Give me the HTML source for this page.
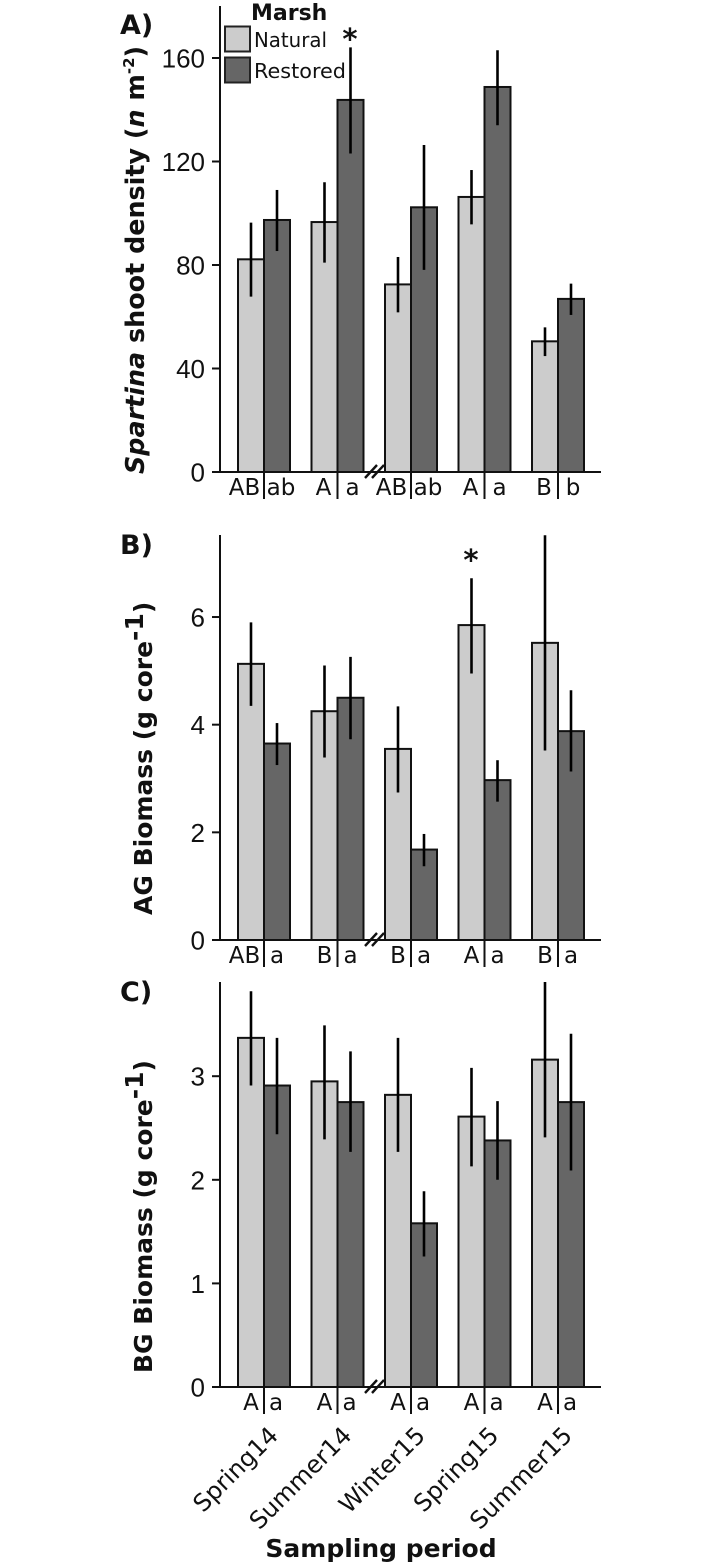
<!DOCTYPE html>
<html lang="en">
<head>
<meta charset="utf-8">
<title>Spartina shoot density and biomass by sampling period</title>
<style>
html,body{margin:0;padding:0;background:#fff;}
svg{display:block;}
text{fill:#111;}
.dj{font-family:"DejaVu Sans","Liberation Sans",sans-serif;}
.ar{font-family:"Liberation Sans",sans-serif;}
.title{font-family:"DejaVu Sans","Liberation Sans",sans-serif;font-weight:bold;}
</style>
</head>
<body>
<svg id="chart" xmlns="http://www.w3.org/2000/svg" width="722" height="1566" viewBox="0 0 722 1566">
  <text class="title" x="120" y="34" font-size="27">A)</text>
  <text class="title" x="120" y="554" font-size="27">B)</text>
  <text class="title" x="120" y="1001" font-size="27">C)</text>

  <text class="title" transform="translate(144,474) rotate(-90)" font-size="25.4"><tspan font-style="italic">Spartina</tspan> shoot density (<tspan font-style="italic">n</tspan> m<tspan font-size="15" dy="-10">-2</tspan><tspan dy="10">)</tspan></text>
  <text class="title" transform="translate(152,915) rotate(-90)" font-size="25">AG Biomass (g core<tspan dy="-9">-1</tspan><tspan dy="9">)</tspan></text>
  <text class="title" transform="translate(152,1373) rotate(-90)" font-size="25">BG Biomass (g core<tspan dy="-9">-1</tspan><tspan dy="9">)</tspan></text>

  <g id="panels"></g>

  <g>
    <text class="title" x="251" y="20" font-size="22">Marsh</text>
    <rect x="225" y="26.5" width="25" height="25" fill="#cccccc" stroke="#222" stroke-width="2"/>
    <rect x="225" y="57.5" width="25" height="25" fill="#666666" stroke="#222" stroke-width="2"/>
    <text class="dj" x="254" y="47" font-size="20" textLength="73" lengthAdjust="spacingAndGlyphs">Natural</text>
    <text class="dj" x="254" y="78" font-size="20.5" textLength="92" lengthAdjust="spacingAndGlyphs">Restored</text>
  </g>

  <text class="title" x="350" y="49" font-size="29" text-anchor="middle">*</text>
  <text class="title" x="471" y="570" font-size="29" text-anchor="middle">*</text>

  <text class="title" x="381" y="1557" font-size="25" text-anchor="middle">Sampling period</text>
</svg>
<script>
const categories = ['Spring14', 'Summer14', 'Winter15', 'Spring15', 'Summer15'];

const shootNatural = [82.2, 96.6, 72.5, 106.3, 50.5];
const shootNaturalLow = [67.8, 80.9, 61.7, 95.7, 44.8];
const shootNaturalHigh = [96.4, 112, 83.1, 116.7, 55.9];
const shootRestored = [97.4, 143.8, 102.3, 148.8, 66.9];
const shootRestoredLow = [85.4, 123.1, 78.1, 134, 60.7];
const shootRestoredHigh = [109, 164.1, 126.4, 163, 72.8];
const shootTicks = [0, 40, 80, 120, 160];
const shootLettersNatural = ['AB', 'A', 'AB', 'A', 'B'];
const shootLettersRestored = ['ab', 'a', 'ab', 'a', 'b'];

const agNatural = [5.13, 4.25, 3.55, 5.85, 5.52];
const agNaturalLow = [4.35, 3.39, 2.74, 4.95, 3.52];
const agNaturalHigh = [5.9, 5.1, 4.34, 6.72, 7.52];
const agRestored = [3.65, 4.5, 1.68, 2.97, 3.88];
const agRestoredLow = [3.25, 3.73, 1.37, 2.57, 3.13];
const agRestoredHigh = [4.03, 5.26, 1.97, 3.34, 4.64];
const agTicks = [0, 2, 4, 6];
const agLettersNatural = ['AB', 'B', 'B', 'A', 'B'];
const agLettersRestored = ['a', 'a', 'a', 'a', 'a'];

const bgNatural = [3.37, 2.95, 2.82, 2.61, 3.16];
const bgNaturalLow = [2.91, 2.39, 2.27, 2.13, 2.41];
const bgNaturalHigh = [3.82, 3.49, 3.37, 3.08, 3.91];
const bgRestored = [2.91, 2.75, 1.58, 2.38, 2.75];
const bgRestoredLow = [2.44, 2.27, 1.26, 2.0, 2.09];
const bgRestoredHigh = [3.37, 3.24, 1.89, 2.76, 3.41];
const bgTicks = [0, 1, 2, 3];
const bgLettersNatural = ['A', 'A', 'A', 'A', 'A'];
const bgLettersRestored = ['a', 'a', 'a', 'a', 'a'];

const SVG_NS = 'http://www.w3.org/2000/svg';
const root = document.getElementById('panels');

function make(tag, parent, attrs, text) {
  const el = document.createElementNS(SVG_NS, tag);
  for (const k in attrs) el.setAttribute(k, attrs[k]);
  if (text !== undefined) el.textContent = text;
  parent.appendChild(el);
  return el;
}

const AXIS_X = 220, AXIS_RIGHT = 601, FIRST_CENTER = 264, STEP = 73.5, BAR_W = 26;
const xCenter = i => FIRST_CENTER + i * STEP;

function drawPanel(p) {
  const y = v => p.y0 - v * p.pxPerUnit;
  const g = make('g', root, {});
  
  

  const clipId = p.key + '-clip';
  const cp = make('clipPath', g, {id: clipId});
  make('rect', cp, {x: AXIS_X, y: p.top, width: AXIS_RIGHT - AXIS_X, height: p.y0 - p.top});

  categories.forEach((cat, i) => {
    const c = xCenter(i);
    const n = make('rect', g, {x: c - BAR_W, y: y(p.nat[i]), width: BAR_W, height: p.y0 - y(p.nat[i]), fill: '#cccccc', stroke: '#111', 'stroke-width': 2});
    
    
    const r = make('rect', g, {x: c, y: y(p.res[i]), width: BAR_W, height: p.y0 - y(p.res[i]), fill: '#666666', stroke: '#111', 'stroke-width': 2});
    
    
  });

  categories.forEach((cat, i) => {
    const c = xCenter(i);
    const e1 = make('line', g, {x1: c - 13, x2: c - 13, y1: y(p.natHi[i]), y2: y(p.natLo[i]), stroke: '#000', 'stroke-width': 2.6, 'clip-path': 'url(#' + clipId + ')'});
    
    
    const e2 = make('line', g, {x1: c + 13, x2: c + 13, y1: y(p.resHi[i]), y2: y(p.resLo[i]), stroke: '#000', 'stroke-width': 2.6, 'clip-path': 'url(#' + clipId + ')'});
    
    

    const sep = make('line', g, {x1: c, x2: c, y1: p.y0, y2: p.y0 + 27, stroke: '#111', 'stroke-width': 2});
    
    

    const natOff = p.letN[i].length > 1 ? 19.5 : p.offN;
    const l1 = make('text', g, {x: c - natOff, y: p.y0 + 23, 'text-anchor': 'middle', 'font-size': 23, class: 'dj'}, p.letN[i]);
    
    
    const resOff = p.letR[i].length > 1 ? 17 : p.offR;
    const l2 = make('text', g, {x: c + resOff, y: p.y0 + 23, 'text-anchor': 'middle', 'font-size': 23, class: 'dj'}, p.letR[i]);
    
    
  });

  const yAxis = make('line', g, {x1: AXIS_X, x2: AXIS_X, y1: p.top, y2: p.y0 + 1, stroke: '#111', 'stroke-width': 2});
  
  
  const xAxis = make('line', g, {x1: AXIS_X - 8, x2: AXIS_RIGHT, y1: p.y0, y2: p.y0, stroke: '#111', 'stroke-width': 2});
  
  

  p.ticks.forEach(t => {
    const tick = make('line', g, {x1: AXIS_X - 8, x2: AXIS_X, y1: y(t), y2: y(t), stroke: '#111', 'stroke-width': 2});
    
    
    const label = make('text', g, {x: AXIS_X - 15, y: y(t) + 9.5, 'text-anchor': 'end', 'font-size': 26, class: 'ar'}, String(t));
    
    
  });

  [0, 7].forEach(dx => {
    const cover = make('line', g, {x1: 365 + dx, x2: 377 + dx, y1: p.y0 + 6, y2: p.y0 - 7, stroke: '#111', 'stroke-width': 2.4});
    
    
  });
}

drawPanel({key: 'shoot-density', y0: 472, top: 6, pxPerUnit: 2.5875, nat: shootNatural, natLo: shootNaturalLow, natHi: shootNaturalHigh, res: shootRestored, resLo: shootRestoredLow, resHi: shootRestoredHigh, ticks: shootTicks, letN: shootLettersNatural, letR: shootLettersRestored, offN: 14, offR: 15});
drawPanel({key: 'ag-biomass', y0: 940, top: 535, pxPerUnit: 53.83, nat: agNatural, natLo: agNaturalLow, natHi: agNaturalHigh, res: agRestored, resLo: agRestoredLow, resHi: agRestoredHigh, ticks: agTicks, letN: agLettersNatural, letR: agLettersRestored, offN: 13, offR: 13});
drawPanel({key: 'bg-biomass', y0: 1387, top: 982, pxPerUnit: 103.6, nat: bgNatural, natLo: bgNaturalLow, natHi: bgNaturalHigh, res: bgRestored, resLo: bgRestoredLow, resHi: bgRestoredHigh, ticks: bgTicks, letN: bgLettersNatural, letR: bgLettersRestored, offN: 13, offR: 12});

categories.forEach((cat, i) => {
  const cx = xCenter(i) + 15.5;
  const t = make('text', root, {transform: 'translate(' + cx + ',1437) rotate(-45)', 'text-anchor': 'end', 'font-size': 24, class: 'dj'}, cat);
  
  
});
</script>
</body>
</html>
